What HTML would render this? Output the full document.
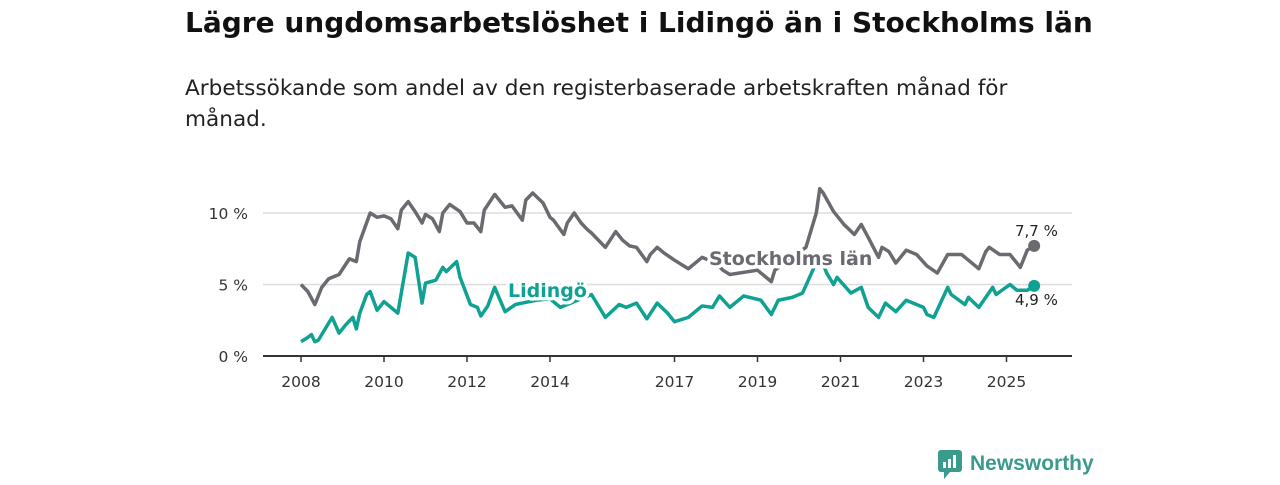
<!DOCTYPE html>
<html><head><meta charset="utf-8"><style>
body{margin:0;background:#fff;width:1280px;height:480px;overflow:hidden;font-family:"Liberation Sans","DejaVu Sans",sans-serif;}
svg text{font-family:"DejaVu Sans","Liberation Sans",sans-serif;}
</style></head><body>
<svg id="c" width="1280" height="480">
<text x="185" y="32" font-size="28" font-weight="bold" fill="#111">Lägre ungdomsarbetslöshet i Lidingö än i Stockholms län</text>
<text x="185" y="95" font-size="21.6" fill="#222">Arbetssökande som andel av den registerbaserade arbetskraften månad för</text>
<text x="185" y="126" font-size="21.6" fill="#222">månad.</text>
<g id="g"></g>
<g>
<rect x="938" y="450" width="24" height="22" rx="3" fill="#3a9a8c"/>
<polygon points="944,472 950,472 944,479" fill="#3a9a8c"/>
<rect x="943" y="462" width="3" height="6" fill="#fff"/><rect x="948" y="459" width="3" height="9" fill="#fff"/><rect x="953" y="455" width="3" height="13" fill="#fff"/>
<text x="970" y="470" font-size="21" font-weight="bold" fill="#3a9a8c" style="font-family:'Liberation Sans',sans-serif">Newsworthy</text>
</g>
</svg>
<script>
const yTicks=[0,5,10];
const yTickLabels=["0 %","5 %","10 %"];
const xTickYears=[2008,2010,2012,2014,2017,2019,2021,2023,2025];
const stoMonths=[0,2,4,6,8,11,14,16,17,20,22,24,26,28,29,31,33,35,36,38,40,41,43,46,48,50,52,53,56,59,61,64,65,67,70,72,73,76,77,79,81,83,84,88,91,93,95,97,100,101,103,105,108,112,116,120,122,124,132,136,137,146,149,150,151,154,157,160,162,164,167,168,170,172,175,178,181,184,187,191,193,196,198,199,202,205,208,210,212];
const stoValues=[5.0,4.5,3.6,4.8,5.4,5.7,6.8,6.6,8.0,10.0,9.7,9.8,9.6,8.9,10.2,10.8,10.1,9.3,9.9,9.6,8.7,10.0,10.6,10.1,9.3,9.3,8.7,10.2,11.3,10.4,10.5,9.5,10.9,11.4,10.7,9.7,9.5,8.5,9.3,10.0,9.3,8.8,8.6,7.6,8.7,8.1,7.7,7.6,6.6,7.1,7.6,7.2,6.7,6.1,6.9,6.5,6.0,5.7,6.0,5.2,6.0,7.6,10.0,11.7,11.4,10.1,9.2,8.5,9.2,8.3,6.9,7.6,7.3,6.5,7.4,7.1,6.3,5.8,7.1,7.1,6.7,6.1,7.3,7.6,7.1,7.1,6.2,7.4,7.7];
const lidMonths=[0,2,3,4,5,9,11,13,15,16,17,19,20,22,24,26,28,31,33,35,36,39,41,42,45,46,49,51,52,54,56,59,62,64,68,72,75,84,88,92,94,97,100,103,106,108,112,116,119,121,124,128,133,136,138,142,145,148,149,150,152,154,155,159,162,164,167,169,172,175,180,181,183,187,188,192,193,196,200,201,205,207,210,212];
const lidValues=[1.0,1.3,1.5,1.0,1.1,2.7,1.6,2.2,2.7,1.9,3.0,4.3,4.5,3.2,3.8,3.4,3.0,7.2,6.9,3.7,5.1,5.3,6.2,5.9,6.6,5.5,3.6,3.4,2.8,3.5,4.8,3.1,3.6,3.7,3.9,4.0,3.4,4.3,2.7,3.6,3.4,3.7,2.6,3.7,3.0,2.4,2.7,3.5,3.4,4.2,3.4,4.2,3.9,2.9,3.9,4.1,4.4,6.0,6.7,7.0,5.8,5.0,5.5,4.4,4.8,3.4,2.7,3.7,3.1,3.9,3.4,2.9,2.7,4.8,4.3,3.6,4.1,3.4,4.8,4.3,5.0,4.6,4.6,4.9];
const NS="http://www.w3.org/2000/svg";
const g=document.getElementById('g');
const X=m=>301+m*(41.5/12);
const Y=v=>356-v*14.3;
function el(t,a){const e=document.createElementNS(NS,t);for(const k in a)e.setAttribute(k,a[k]);g.appendChild(e);return e;}
yTicks.forEach((v,i)=>{
 if(v>0){const l=el('line',{x1:263,x2:1072,y1:Y(v),y2:Y(v),stroke:'#ddd','stroke-width':1.5});
 
 }
 const t=el('text',{x:248,y:Y(v)+6,'text-anchor':'end','font-size':15.5,fill:'#333'});t.textContent=yTickLabels[i];
 
 
});
const ax=el('line',{x1:263,x2:1072,y1:356,y2:356,stroke:'#333','stroke-width':2});


xTickYears.forEach(yr=>{
 const x=X((yr-2008)*12);
 const tk=el('line',{x1:x,x2:x,y1:356,y2:362,stroke:'#333','stroke-width':1.5});
 
 
 const t=el('text',{x:x,y:387,'text-anchor':'middle','font-size':15.5,fill:'#333'});t.textContent=yr;
 
 
});
function line(ms,vs,col,name){
 const p=el('polyline',{points:ms.map((m,i)=>X(m)+','+Y(vs[i])).join(' '),fill:'none',stroke:col,'stroke-width':3.5,'stroke-linejoin':'round'});
 
 
 const c=el('circle',{cx:X(ms[ms.length-1]),cy:Y(vs[vs.length-1]),r:6,fill:col});
 
 
}
line(stoMonths,stoValues,'#6b6a70','stockholm-line');
line(lidMonths,lidValues,'#0fa192','lidingo-line');
function lab(x,y,txt,col,name,size,bold){
 const t=el('text',{x:x,y:y,'font-size':size,'font-weight':bold?'bold':'normal',fill:col,stroke:'#fff','stroke-width':bold?7:4,'paint-order':'stroke','stroke-linejoin':'round'});
 t.textContent=txt;
 
 
}
lab(709,265,'Stockholms län','#6b6a70','stockholm-label',19,true);
lab(508,297,'Lidingö','#0fa192','lidingo-label',19,true);
lab(1015,236,'7,7 %','#222','stockholm-end-value',15,false);
lab(1015,305,'4,9 %','#222','lidingo-end-value',15,false);
</script>
</body></html>
